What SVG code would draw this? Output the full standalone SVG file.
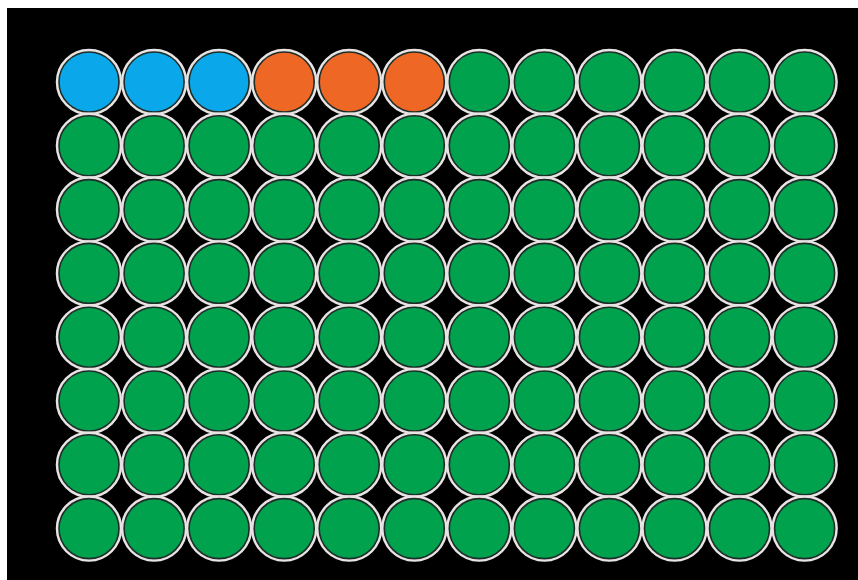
<svg xmlns="http://www.w3.org/2000/svg" width="858" height="580" viewBox="0 0 858 580">
<style>
.w{stroke:#1f2d28;stroke-width:1.6}
.h{fill:none;stroke:#e8e4e4;stroke-width:4.5}
.b{fill:#0AA8EA}
.o{fill:#EE6725}
.g{fill:#00A24E}
</style>
<rect x="0" y="0" width="858" height="580" fill="#ffffff"/>
<rect x="7" y="8" width="851" height="572" fill="#000000"/>
<g id="halos">
<g id="hr1"><circle class="h" cx="89" cy="82" r="31"/><circle class="h" cx="154.1" cy="82" r="31"/><circle class="h" cx="219.1" cy="82" r="31"/><circle class="h" cx="284.2" cy="82" r="31"/><circle class="h" cx="349.2" cy="82" r="31"/><circle class="h" cx="414.3" cy="82" r="31"/><circle class="h" cx="479.3" cy="82" r="31"/><circle class="h" cx="544.4" cy="82" r="31"/><circle class="h" cx="609.4" cy="82" r="31"/><circle class="h" cx="674.5" cy="82" r="31"/><circle class="h" cx="739.5" cy="82" r="31"/><circle class="h" cx="804.6" cy="82" r="31"/></g>
</g>
<g id="plate">
<g id="A1"><circle class="w b" cx="89" cy="82" r="30"/></g>
<g id="A2"><circle class="w b" cx="154.1" cy="82" r="30"/></g>
<g id="A3"><circle class="w b" cx="219.1" cy="82" r="30"/></g>
<g id="A4"><circle class="w o" cx="284.2" cy="82" r="30"/></g>
<g id="A5"><circle class="w o" cx="349.2" cy="82" r="30"/></g>
<g id="A6"><circle class="w o" cx="414.3" cy="82" r="30"/></g>
<g id="A7"><circle class="w g" cx="479.3" cy="82" r="30"/></g>
<g id="A8"><circle class="w g" cx="544.4" cy="82" r="30"/></g>
<g id="A9"><circle class="w g" cx="609.4" cy="82" r="30"/></g>
<g id="A10"><circle class="w g" cx="674.5" cy="82" r="30"/></g>
<g id="A11"><circle class="w g" cx="739.5" cy="82" r="30"/></g>
<g id="A12"><circle class="w g" cx="804.6" cy="82" r="30"/></g>
<g id="B1"><circle class="h" cx="89" cy="145.8" r="31"/><circle class="w g" cx="89" cy="145.8" r="30"/></g>
<g id="B2"><circle class="h" cx="154.1" cy="145.8" r="31"/><circle class="w g" cx="154.1" cy="145.8" r="30"/></g>
<g id="B3"><circle class="h" cx="219.1" cy="145.8" r="31"/><circle class="w g" cx="219.1" cy="145.8" r="30"/></g>
<g id="B4"><circle class="h" cx="284.2" cy="145.8" r="31"/><circle class="w g" cx="284.2" cy="145.8" r="30"/></g>
<g id="B5"><circle class="h" cx="349.2" cy="145.8" r="31"/><circle class="w g" cx="349.2" cy="145.8" r="30"/></g>
<g id="B6"><circle class="h" cx="414.3" cy="145.8" r="31"/><circle class="w g" cx="414.3" cy="145.8" r="30"/></g>
<g id="B7"><circle class="h" cx="479.3" cy="145.8" r="31"/><circle class="w g" cx="479.3" cy="145.8" r="30"/></g>
<g id="B8"><circle class="h" cx="544.4" cy="145.8" r="31"/><circle class="w g" cx="544.4" cy="145.8" r="30"/></g>
<g id="B9"><circle class="h" cx="609.4" cy="145.8" r="31"/><circle class="w g" cx="609.4" cy="145.8" r="30"/></g>
<g id="B10"><circle class="h" cx="674.5" cy="145.8" r="31"/><circle class="w g" cx="674.5" cy="145.8" r="30"/></g>
<g id="B11"><circle class="h" cx="739.5" cy="145.8" r="31"/><circle class="w g" cx="739.5" cy="145.8" r="30"/></g>
<g id="B12"><circle class="h" cx="804.6" cy="145.8" r="31"/><circle class="w g" cx="804.6" cy="145.8" r="30"/></g>
<g id="C1"><circle class="h" cx="89" cy="209.6" r="31"/><circle class="w g" cx="89" cy="209.6" r="30"/></g>
<g id="C2"><circle class="h" cx="154.1" cy="209.6" r="31"/><circle class="w g" cx="154.1" cy="209.6" r="30"/></g>
<g id="C3"><circle class="h" cx="219.1" cy="209.6" r="31"/><circle class="w g" cx="219.1" cy="209.6" r="30"/></g>
<g id="C4"><circle class="h" cx="284.2" cy="209.6" r="31"/><circle class="w g" cx="284.2" cy="209.6" r="30"/></g>
<g id="C5"><circle class="h" cx="349.2" cy="209.6" r="31"/><circle class="w g" cx="349.2" cy="209.6" r="30"/></g>
<g id="C6"><circle class="h" cx="414.3" cy="209.6" r="31"/><circle class="w g" cx="414.3" cy="209.6" r="30"/></g>
<g id="C7"><circle class="h" cx="479.3" cy="209.6" r="31"/><circle class="w g" cx="479.3" cy="209.6" r="30"/></g>
<g id="C8"><circle class="h" cx="544.4" cy="209.6" r="31"/><circle class="w g" cx="544.4" cy="209.6" r="30"/></g>
<g id="C9"><circle class="h" cx="609.4" cy="209.6" r="31"/><circle class="w g" cx="609.4" cy="209.6" r="30"/></g>
<g id="C10"><circle class="h" cx="674.5" cy="209.6" r="31"/><circle class="w g" cx="674.5" cy="209.6" r="30"/></g>
<g id="C11"><circle class="h" cx="739.5" cy="209.6" r="31"/><circle class="w g" cx="739.5" cy="209.6" r="30"/></g>
<g id="C12"><circle class="h" cx="804.6" cy="209.6" r="31"/><circle class="w g" cx="804.6" cy="209.6" r="30"/></g>
<g id="D1"><circle class="h" cx="89" cy="273.4" r="31"/><circle class="w g" cx="89" cy="273.4" r="30"/></g>
<g id="D2"><circle class="h" cx="154.1" cy="273.4" r="31"/><circle class="w g" cx="154.1" cy="273.4" r="30"/></g>
<g id="D3"><circle class="h" cx="219.1" cy="273.4" r="31"/><circle class="w g" cx="219.1" cy="273.4" r="30"/></g>
<g id="D4"><circle class="h" cx="284.2" cy="273.4" r="31"/><circle class="w g" cx="284.2" cy="273.4" r="30"/></g>
<g id="D5"><circle class="h" cx="349.2" cy="273.4" r="31"/><circle class="w g" cx="349.2" cy="273.4" r="30"/></g>
<g id="D6"><circle class="h" cx="414.3" cy="273.4" r="31"/><circle class="w g" cx="414.3" cy="273.4" r="30"/></g>
<g id="D7"><circle class="h" cx="479.3" cy="273.4" r="31"/><circle class="w g" cx="479.3" cy="273.4" r="30"/></g>
<g id="D8"><circle class="h" cx="544.4" cy="273.4" r="31"/><circle class="w g" cx="544.4" cy="273.4" r="30"/></g>
<g id="D9"><circle class="h" cx="609.4" cy="273.4" r="31"/><circle class="w g" cx="609.4" cy="273.4" r="30"/></g>
<g id="D10"><circle class="h" cx="674.5" cy="273.4" r="31"/><circle class="w g" cx="674.5" cy="273.4" r="30"/></g>
<g id="D11"><circle class="h" cx="739.5" cy="273.4" r="31"/><circle class="w g" cx="739.5" cy="273.4" r="30"/></g>
<g id="D12"><circle class="h" cx="804.6" cy="273.4" r="31"/><circle class="w g" cx="804.6" cy="273.4" r="30"/></g>
<g id="E1"><circle class="h" cx="89" cy="337.2" r="31"/><circle class="w g" cx="89" cy="337.2" r="30"/></g>
<g id="E2"><circle class="h" cx="154.1" cy="337.2" r="31"/><circle class="w g" cx="154.1" cy="337.2" r="30"/></g>
<g id="E3"><circle class="h" cx="219.1" cy="337.2" r="31"/><circle class="w g" cx="219.1" cy="337.2" r="30"/></g>
<g id="E4"><circle class="h" cx="284.2" cy="337.2" r="31"/><circle class="w g" cx="284.2" cy="337.2" r="30"/></g>
<g id="E5"><circle class="h" cx="349.2" cy="337.2" r="31"/><circle class="w g" cx="349.2" cy="337.2" r="30"/></g>
<g id="E6"><circle class="h" cx="414.3" cy="337.2" r="31"/><circle class="w g" cx="414.3" cy="337.2" r="30"/></g>
<g id="E7"><circle class="h" cx="479.3" cy="337.2" r="31"/><circle class="w g" cx="479.3" cy="337.2" r="30"/></g>
<g id="E8"><circle class="h" cx="544.4" cy="337.2" r="31"/><circle class="w g" cx="544.4" cy="337.2" r="30"/></g>
<g id="E9"><circle class="h" cx="609.4" cy="337.2" r="31"/><circle class="w g" cx="609.4" cy="337.2" r="30"/></g>
<g id="E10"><circle class="h" cx="674.5" cy="337.2" r="31"/><circle class="w g" cx="674.5" cy="337.2" r="30"/></g>
<g id="E11"><circle class="h" cx="739.5" cy="337.2" r="31"/><circle class="w g" cx="739.5" cy="337.2" r="30"/></g>
<g id="E12"><circle class="h" cx="804.6" cy="337.2" r="31"/><circle class="w g" cx="804.6" cy="337.2" r="30"/></g>
<g id="F1"><circle class="h" cx="89" cy="401" r="31"/><circle class="w g" cx="89" cy="401" r="30"/></g>
<g id="F2"><circle class="h" cx="154.1" cy="401" r="31"/><circle class="w g" cx="154.1" cy="401" r="30"/></g>
<g id="F3"><circle class="h" cx="219.1" cy="401" r="31"/><circle class="w g" cx="219.1" cy="401" r="30"/></g>
<g id="F4"><circle class="h" cx="284.2" cy="401" r="31"/><circle class="w g" cx="284.2" cy="401" r="30"/></g>
<g id="F5"><circle class="h" cx="349.2" cy="401" r="31"/><circle class="w g" cx="349.2" cy="401" r="30"/></g>
<g id="F6"><circle class="h" cx="414.3" cy="401" r="31"/><circle class="w g" cx="414.3" cy="401" r="30"/></g>
<g id="F7"><circle class="h" cx="479.3" cy="401" r="31"/><circle class="w g" cx="479.3" cy="401" r="30"/></g>
<g id="F8"><circle class="h" cx="544.4" cy="401" r="31"/><circle class="w g" cx="544.4" cy="401" r="30"/></g>
<g id="F9"><circle class="h" cx="609.4" cy="401" r="31"/><circle class="w g" cx="609.4" cy="401" r="30"/></g>
<g id="F10"><circle class="h" cx="674.5" cy="401" r="31"/><circle class="w g" cx="674.5" cy="401" r="30"/></g>
<g id="F11"><circle class="h" cx="739.5" cy="401" r="31"/><circle class="w g" cx="739.5" cy="401" r="30"/></g>
<g id="F12"><circle class="h" cx="804.6" cy="401" r="31"/><circle class="w g" cx="804.6" cy="401" r="30"/></g>
<g id="G1"><circle class="h" cx="89" cy="464.8" r="31"/><circle class="w g" cx="89" cy="464.8" r="30"/></g>
<g id="G2"><circle class="h" cx="154.1" cy="464.8" r="31"/><circle class="w g" cx="154.1" cy="464.8" r="30"/></g>
<g id="G3"><circle class="h" cx="219.1" cy="464.8" r="31"/><circle class="w g" cx="219.1" cy="464.8" r="30"/></g>
<g id="G4"><circle class="h" cx="284.2" cy="464.8" r="31"/><circle class="w g" cx="284.2" cy="464.8" r="30"/></g>
<g id="G5"><circle class="h" cx="349.2" cy="464.8" r="31"/><circle class="w g" cx="349.2" cy="464.8" r="30"/></g>
<g id="G6"><circle class="h" cx="414.3" cy="464.8" r="31"/><circle class="w g" cx="414.3" cy="464.8" r="30"/></g>
<g id="G7"><circle class="h" cx="479.3" cy="464.8" r="31"/><circle class="w g" cx="479.3" cy="464.8" r="30"/></g>
<g id="G8"><circle class="h" cx="544.4" cy="464.8" r="31"/><circle class="w g" cx="544.4" cy="464.8" r="30"/></g>
<g id="G9"><circle class="h" cx="609.4" cy="464.8" r="31"/><circle class="w g" cx="609.4" cy="464.8" r="30"/></g>
<g id="G10"><circle class="h" cx="674.5" cy="464.8" r="31"/><circle class="w g" cx="674.5" cy="464.8" r="30"/></g>
<g id="G11"><circle class="h" cx="739.5" cy="464.8" r="31"/><circle class="w g" cx="739.5" cy="464.8" r="30"/></g>
<g id="G12"><circle class="h" cx="804.6" cy="464.8" r="31"/><circle class="w g" cx="804.6" cy="464.8" r="30"/></g>
<g id="H1"><circle class="h" cx="89" cy="528.6" r="31"/><circle class="w g" cx="89" cy="528.6" r="30"/></g>
<g id="H2"><circle class="h" cx="154.1" cy="528.6" r="31"/><circle class="w g" cx="154.1" cy="528.6" r="30"/></g>
<g id="H3"><circle class="h" cx="219.1" cy="528.6" r="31"/><circle class="w g" cx="219.1" cy="528.6" r="30"/></g>
<g id="H4"><circle class="h" cx="284.2" cy="528.6" r="31"/><circle class="w g" cx="284.2" cy="528.6" r="30"/></g>
<g id="H5"><circle class="h" cx="349.2" cy="528.6" r="31"/><circle class="w g" cx="349.2" cy="528.6" r="30"/></g>
<g id="H6"><circle class="h" cx="414.3" cy="528.6" r="31"/><circle class="w g" cx="414.3" cy="528.6" r="30"/></g>
<g id="H7"><circle class="h" cx="479.3" cy="528.6" r="31"/><circle class="w g" cx="479.3" cy="528.6" r="30"/></g>
<g id="H8"><circle class="h" cx="544.4" cy="528.6" r="31"/><circle class="w g" cx="544.4" cy="528.6" r="30"/></g>
<g id="H9"><circle class="h" cx="609.4" cy="528.6" r="31"/><circle class="w g" cx="609.4" cy="528.6" r="30"/></g>
<g id="H10"><circle class="h" cx="674.5" cy="528.6" r="31"/><circle class="w g" cx="674.5" cy="528.6" r="30"/></g>
<g id="H11"><circle class="h" cx="739.5" cy="528.6" r="31"/><circle class="w g" cx="739.5" cy="528.6" r="30"/></g>
<g id="H12"><circle class="h" cx="804.6" cy="528.6" r="31"/><circle class="w g" cx="804.6" cy="528.6" r="30"/></g>
</g>
<g id="connectors"/>
</svg>
